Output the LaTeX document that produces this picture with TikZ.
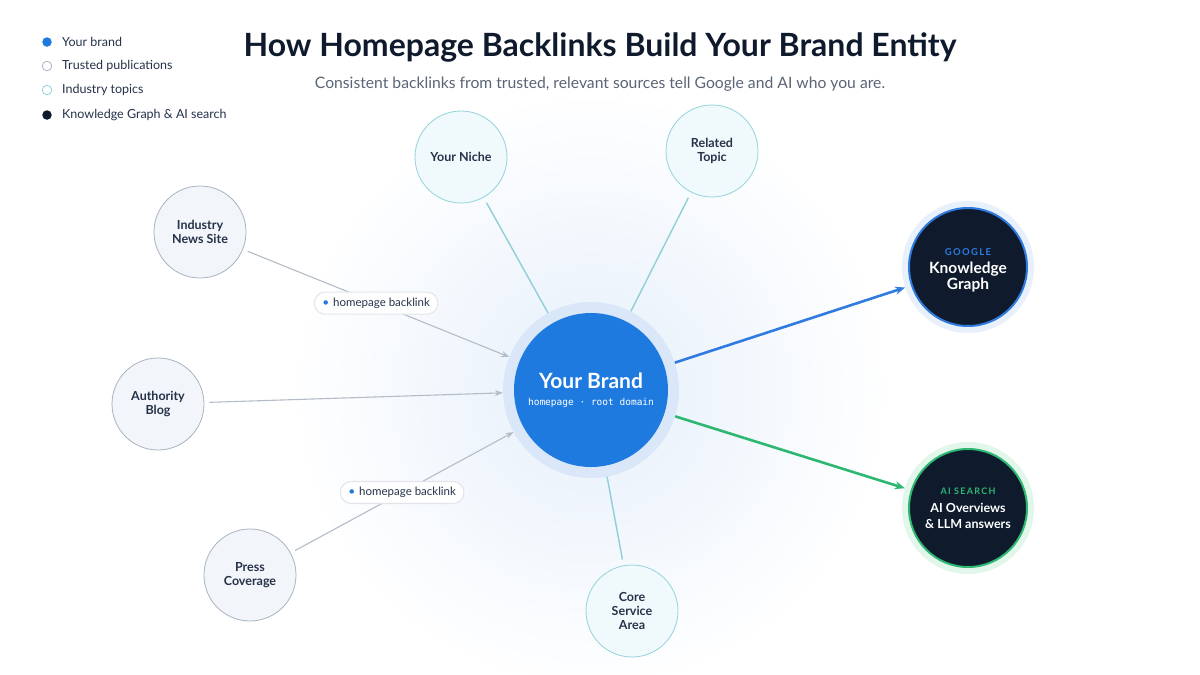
\documentclass[tikz,border=0pt]{standalone}
\usepackage{fontspec}
\setmainfont{Lato}
\setmonofont{DejaVu Sans Mono}
\newfontfamily\spacedfont[LetterSpace=14]{Lato}
\usetikzlibrary{arrows.meta}
\definecolor{navy}{HTML}{0F1B2D}
\definecolor{ink}{HTML}{26324A}
\definecolor{subgray}{HTML}{5B6577}
\definecolor{bblue}{HTML}{1F7AE0}
\definecolor{bhalo}{HTML}{D9E7F9}
\definecolor{kgblue}{HTML}{2F7BE0}
\definecolor{kghalo}{HTML}{E8F0FB}
\definecolor{ggreen}{HTML}{2DB872}
\definecolor{ghalo}{HTML}{E3F6EB}
\definecolor{grayline}{HTML}{B4BCC7}
\definecolor{grayborder}{HTML}{A9B4C2}
\definecolor{grayfill}{HTML}{F2F5F9}
\definecolor{tealborder}{HTML}{93D3DC}
\definecolor{tealfill}{HTML}{F0F9FB}
\definecolor{tealline}{HTML}{8FCFD8}
\definecolor{pillborder}{HTML}{E2E6EC}
\definecolor{glow}{HTML}{E6EFFB}
\tikzset{
  satbase/.style={circle, minimum size=92pt, inner sep=0pt, align=center, line width=0.8pt,
    text=ink, font=\fontsize{12.5}{14}\selectfont\bfseries},
  pubsat/.style={satbase, draw=grayborder, fill=grayfill},
  topsat/.style={satbase, draw=tealborder, fill=tealfill},
  legdot/.style={circle, minimum size=9.5pt, inner sep=0pt, line width=0.8pt},
  legtext/.style={anchor=west, inner sep=0pt, text=ink, font=\fontsize{12.5}{14}\selectfont},
  backlink/.style={draw=grayline, line width=1.1pt, shorten <=5pt, -{Stealth[length=8pt,width=6pt]}},
  topicline/.style={draw=tealline, line width=1.4pt, shorten <=6pt},
  pill/.style={draw=pillborder, fill=white, rounded corners=11pt, minimum height=22pt, inner xsep=8pt,
    text=ink, font=\fontsize{11.5}{13}\selectfont},
  darknode/.style={circle, minimum size=118pt, inner sep=0pt, fill=navy, line width=2pt},
  darktext/.style={align=center, inner sep=0pt, text=white, font=\fontsize{15.5}{16}\selectfont\bfseries},
  halo/.style={circle, inner sep=0pt},
}
\begin{document}
\begin{tikzpicture}[x=1pt,y=-1pt]
\useasboundingbox (0,0) rectangle (1200,675);
\fill[white] (0,0) rectangle (1200,675);
\shade[inner color=glow, outer color=white] (591,390) circle (300);

% legend
\node[legdot, fill=bblue] (l1) at (47,42) {};
\node[legdot, draw=grayborder, fill=white] (l2) at (47,66) {};
\node[legdot, draw=tealborder, fill=white] (l3) at (47,90) {};
\node[legdot, fill=navy] (l4) at (47,115) {};
\node[legtext] (t1) at (62,42) {Your brand};
\node[legtext] (t2) at (62,66) {Trusted publications};
\node[legtext] (t3) at (62,90) {Industry topics};
\node[legtext] (t4) at (62,115) {Knowledge Graph \& AI search};

% title
\node[text=navy, font=\fontsize{32}{36}\selectfont\bfseries] (title) at (600,47) {How Homepage Backlinks Build Your Brand Entity};
\node[text=subgray, font=\fontsize{15.7}{18}\selectfont] (subtitle) at (600,84) {Consistent backlinks from trusted, relevant sources tell Google and AI who you are.};

% halos
\node[halo, minimum size=176pt, fill=bhalo] (brandhalo) at (591,390) {};
\node[halo, minimum size=132pt, fill=kghalo] (kgh) at (968,267) {};
\node[halo, minimum size=132pt, fill=ghalo] (aih) at (968,508) {};

% satellites
\node[pubsat] (ind) at (200,232) {Industry\\News Site};
\node[pubsat] (blog) at (158,404) {Authority\\Blog};
\node[pubsat] (press) at (250,575) {Press\\Coverage};
\node[topsat] (niche) at (461,157) {Your Niche};
\node[topsat] (rel) at (712,151) {Related\\Topic};
\node[topsat] (core) at (632,611) {Core\\Service\\Area};

% connectors
\draw[topicline] (niche) -- (brandhalo);
\draw[topicline] (rel) -- (brandhalo);
\draw[topicline] (core) -- (brandhalo);
\draw[backlink] (ind) -- (brandhalo)
  node[pill, midway] (p1) {{\color{bblue}\fontsize{12}{9}\selectfont\textbullet}\hspace{4pt}homepage backlink};
\draw[backlink] (blog) -- (brandhalo);
\draw[backlink] (press) -- (brandhalo)
  node[pill, midway] (p2) {{\color{bblue}\fontsize{12}{9}\selectfont\textbullet}\hspace{4pt}homepage backlink};
\draw[kgblue, line width=2.6pt, -{Stealth[length=10pt,width=8pt]}] (brandhalo) -- (kgh);
\draw[ggreen, line width=2.6pt, -{Stealth[length=10pt,width=8pt]}] (brandhalo) -- (aih);

% brand
\node[circle, minimum size=154pt, inner sep=0pt, fill=bblue, text=white, align=center] (brand) at (591,390)
  {{\fontsize{21}{22}\selectfont\bfseries Your Brand}\\[5pt]{\ttfamily\fontsize{9.5}{11}\selectfont homepage · root domain}};

% outputs
\node[darknode, draw=kgblue] (kg) at (968,267) {};
\node[darktext] (kgtext) at ([yshift=-3pt]kg.center)
  {{\spacedfont\fontsize{9.5}{10}\selectfont\bfseries\color{kgblue}GOOGLE}\\[2pt]Knowledge\\Graph};
\node[darknode, draw=ggreen] (ai) at (968,508) {};
\node[darktext] (aitext) at (ai.center)
  {{\spacedfont\fontsize{9}{10}\selectfont\bfseries\color{ggreen}AI SEARCH}\\[2pt]{\fontsize{12.5}{14}\selectfont AI Overviews}\\{\fontsize{12.5}{14}\selectfont \& LLM answers}};
\end{tikzpicture}
\end{document}
